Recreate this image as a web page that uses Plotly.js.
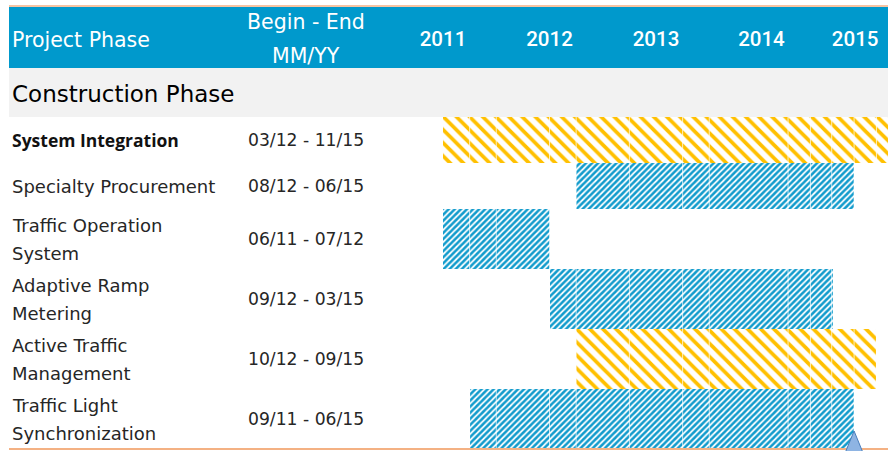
<!DOCTYPE html>
<html><head><meta charset="utf-8">
<script src="https://cdn.plot.ly/plotly-3.0.1.min.js"></script>
<style>html,body{margin:0;padding:0;background:#fff;overflow:hidden}#chart{width:888px;height:451px}</style>
</head><body><div id="chart"></div>
<script>
// ---- data ----
const headers = ["Project Phase", "Begin - End<br>MM/YY"];
const groupTitle = "Construction Phase";
const phases = ["System Integration", "Specialty Procurement", "Traffic Operation<br>System",
  "Adaptive Ramp<br>Metering", "Active Traffic<br>Management", "Traffic Light<br>Synchronization"];
const dateRanges = ["03/12 - 11/15", "08/12 - 06/15", "06/11 - 07/12", "09/12 - 03/15", "10/12 - 09/15", "09/11 - 06/15"];
const barStart = [2011.0, 2012.25, 2011.0, 2012.0, 2012.25, 2011.25];
const barEnd = [2015.2, 2014.86, 2012.0, 2014.66, 2015.07, 2014.86];
const highlighted = [true, false, false, false, true, false];
const yearLabels = ["2011", "2012", "2013", "2014", "2015"];
const yearTickPos = [2011, 2012, 2013, 2013.99, 2014.87];
const segmentBreaks = [2011.25, 2011.5, 2012.0, 2012.25, 2012.75, 2013.25, 2013.5, 2014.24, 2014.45, 2014.65, 2014.86, 2015.07];
const todayMark = [2014.86];

// ---- layout helpers ----
const W = 888, H = 451, TOP = 68;
const plotH = H - TOP;
const py = p => (H - p) / plotH;       // pixel -> paper y
const pxX = p => p / W;                // pixel -> paper x
const GROUP_H = 49;
const rowH = phases.map(s => s.includes("<br>") ? 60 : 46);
const rowTop = [];
let acc = GROUP_H;
rowH.forEach(h => { rowTop.push(acc); acc += h; });
const rowMid = rowTop.map((t, i) => t + rowH[i] / 2);
const bottomY = acc;

const YELLOW = "#FFC000", BLUE = "#119BCC";
const fg = highlighted.map(h => h ? YELLOW : BLUE);

const bars = {
  type: "bar", orientation: "h",
  y: rowMid, base: barStart, x: barEnd.map((e, i) => e - barStart[i]),
  width: rowH,
  marker: {
    color: fg, line: {width: 0},
    pattern: {
      shape: highlighted.map(h => h ? "\\" : "/"),
      fgcolor: fg, bgcolor: "#ffffff",
      size: highlighted.map(h => h ? 9.3 : 4.3),
      solidity: highlighted.map(h => h ? 0.4 : 0.6)
    }
  },
  hoverinfo: "skip", showlegend: false
};

const FONT = "DejaVu Sans";
const TEXT = "#262626";
const annotations = [];
annotations.push({xref: "paper", yref: "paper", x: pxX(10), y: py(39.5), xanchor: "left", yanchor: "middle",
  text: headers[0], showarrow: false, font: {family: FONT, size: 20.5, color: "#ffffff"}});
headers[1].split("<br>").forEach((t, k) => annotations.push({xref: "paper", yref: "paper", x: pxX(306), y: py(22.5 + k * 33),
  xanchor: "center", yanchor: "middle", text: t, showarrow: false, font: {family: FONT, size: 20.5, color: "#ffffff"}}));
annotations.push({xref: "paper", yref: "y", x: pxX(10), y: 26, xanchor: "left", yanchor: "middle",
  text: groupTitle, showarrow: false, font: {family: FONT, size: 23, color: "#000000"}});
phases.forEach((p, i) => {
  const lines = p.split("<br>");
  lines.forEach((t, k) => annotations.push({xref: "paper", yref: "y", x: pxX(10),
    y: rowMid[i] + (k - (lines.length - 1) / 2) * 28, xanchor: "left", yanchor: "middle",
    text: i === 0 ? "<b>" + t + "</b>" : t, showarrow: false,
    font: i === 0 ? {family: "Open Sans", size: 17.5, color: "#111111"} : {family: FONT, size: 18, color: TEXT}}));
  annotations.push({xref: "paper", yref: "y", x: pxX(246), y: rowMid[i], xanchor: "left", yanchor: "middle",
    text: dateRanges[i], showarrow: false, font: {family: FONT, size: 17.2, color: TEXT}});
});

const shapes = [
  {type: "rect", xref: "paper", yref: "paper", x0: pxX(9), x1: 1, y0: py(68), y1: py(7), fillcolor: "#0099CC", line: {width: 0}, layer: "below"},
  {type: "line", xref: "paper", yref: "paper", x0: pxX(9), x1: 1, y0: py(6), y1: py(6), line: {color: "#F4B183", width: 1.5}},
  {type: "rect", xref: "paper", yref: "y", x0: pxX(9), x1: 1, y0: 0, y1: GROUP_H, fillcolor: "#F2F2F2", line: {width: 0}, layer: "below"}
];
segmentBreaks.forEach(b => shapes.push({type: "line", xref: "x", yref: "y", x0: b, x1: b, y0: GROUP_H, y1: bottomY,
  line: {color: "rgba(255,255,255,0.75)", width: 1}, layer: "above"}));
shapes.push({type: "line", xref: "paper", yref: "y", x0: pxX(9), x1: 1, y0: bottomY, y1: bottomY, line: {color: "#F4B183", width: 2}, layer: "above"});
todayMark.forEach(t => shapes.push({type: "path", xref: "x", yref: "y", xsizemode: "pixel", ysizemode: "pixel",
  xanchor: t, yanchor: bottomY, path: "M0,18 L-9,-4 L9,-4 Z", fillcolor: "#8EB4E3", line: {color: "#4A7EBB", width: 1}, layer: "above"}));

const layout = {
  width: W, height: H, margin: {l: 0, r: 0, t: TOP, b: 0, pad: 0},
  paper_bgcolor: "#ffffff", plot_bgcolor: "rgba(0,0,0,0)",
  xaxis: {range: [2011 - 443 / 106.5, 2011 + 445 / 106.5], side: "top", tickvals: yearTickPos, ticktext: yearLabels,
    tickfont: {family: "Roboto", size: 20.5, color: "#ffffff", weight: 500}, ticks: "", showgrid: false, zeroline: false,
    showline: false, ticklabelstandoff: 17, fixedrange: true},
  yaxis: {range: [plotH, 0], visible: false, fixedrange: true},
  bargap: 0, showlegend: false, shapes, annotations
};
Plotly.newPlot("chart", [bars], layout, {staticPlot: true, displayModeBar: false});
</script></body></html>
